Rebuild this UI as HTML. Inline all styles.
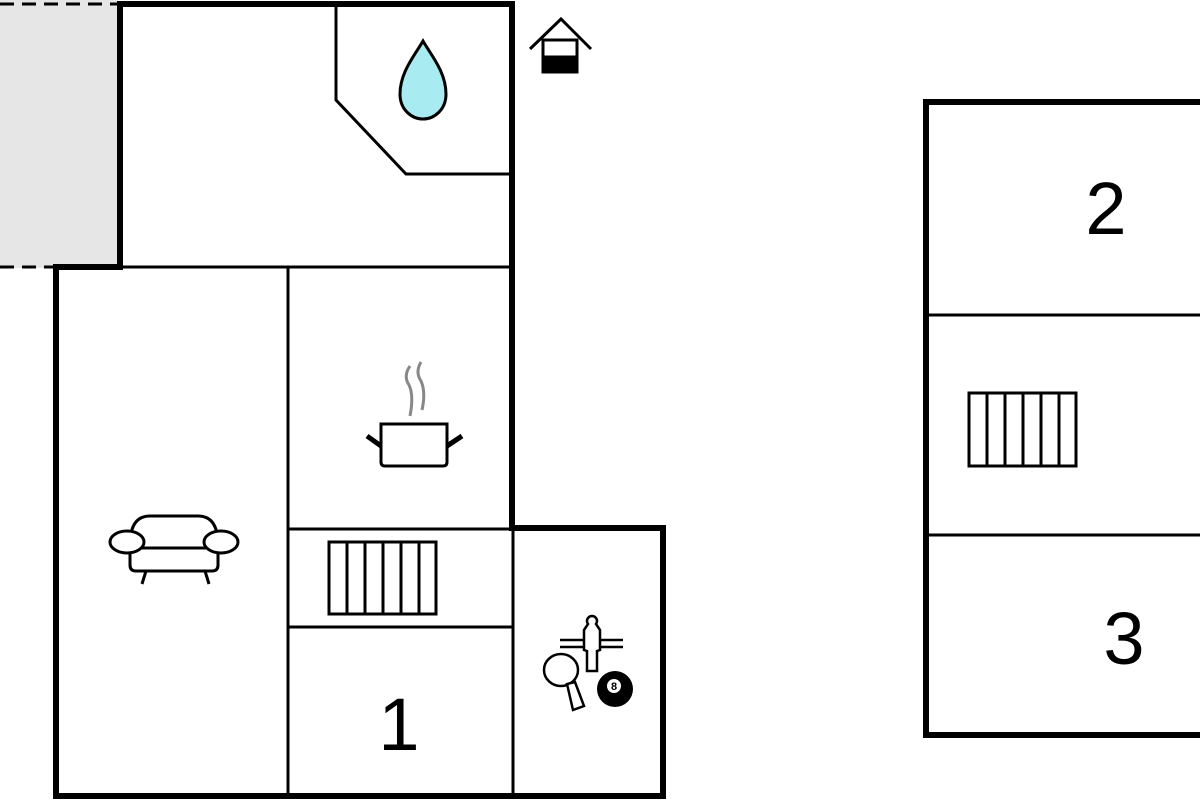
<!DOCTYPE html>
<html><head><style>body{margin:0;background:#fff}svg{display:block}</style></head>
<body>
<svg width="1200" height="800" viewBox="0 0 1200 800" xmlns="http://www.w3.org/2000/svg">
<rect x="0" y="0" width="118" height="268" fill="#e6e6e6"/>
<line x1="0" y1="4" x2="118" y2="4" stroke="#000" stroke-width="3" stroke-dasharray="14,8"/>
<line x1="0" y1="267" x2="118" y2="267" stroke="#000" stroke-width="3" stroke-dasharray="14,8"/>
<g stroke="#000" fill="none" stroke-linecap="square">
<!-- thick outer walls -->
<path d="M120 267 V4 H512 V528 H663 V796 H56 V267 H120" stroke-width="6"/>
<!-- thin inner -->
<g stroke-width="3">
<line x1="120" y1="267" x2="512" y2="267"/>
<line x1="288" y1="267" x2="288" y2="796"/>
<line x1="288" y1="529" x2="512" y2="529"/>
<line x1="288" y1="627" x2="512" y2="627"/>
<line x1="513" y1="528" x2="513" y2="796"/>
<path d="M336 4 V100 L406 174 H512"/>
<!-- stairs 1 -->
<rect x="329" y="542" width="107" height="72"/>
<line x1="347" y1="542" x2="347" y2="614"/><line x1="365" y1="542" x2="365" y2="614"/>
<line x1="383" y1="542" x2="383" y2="614"/><line x1="401" y1="542" x2="401" y2="614"/>
<line x1="419" y1="542" x2="419" y2="614"/>
<!-- right building -->
<line x1="929" y1="315" x2="1200" y2="315"/>
<line x1="929" y1="535" x2="1200" y2="535"/>
<rect x="969" y="393" width="107" height="73"/>
<line x1="987" y1="393" x2="987" y2="466"/><line x1="1005" y1="393" x2="1005" y2="466"/>
<line x1="1023" y1="393" x2="1023" y2="466"/><line x1="1041" y1="393" x2="1041" y2="466"/>
<line x1="1059" y1="393" x2="1059" y2="466"/>
</g>
<path d="M1200 102 H926 V735 H1200" stroke-width="6"/>
</g>
<!-- drop -->
<path d="M423 41 C415 55 400 72 400 94 C400 110 412 119 423 119 C434 119 446 110 446 94 C446 72 431 55 423 41 Z" fill="#a8ecf2" stroke="#000" stroke-width="3"/>
<!-- house icon -->
<g stroke="#000" stroke-width="3" fill="none">
<path d="M530 49 L561 19 L591 49"/>
<rect x="543" y="40" width="34" height="32" fill="#fff"/>
<rect x="543" y="57" width="34" height="15" fill="#000"/>
</g>
<!-- pot -->
<g stroke="#000" stroke-width="3" fill="none">
<path d="M381 424 H447 V462 Q447 466 443 466 H385 Q381 466 381 462 Z"/>
<line x1="367" y1="436" x2="381" y2="446" stroke-width="5"/>
<line x1="462" y1="436" x2="447" y2="446" stroke-width="5"/>
<path d="M410 366 Q403 376 409 385 Q414 395 410 416" stroke="#888"/>
<path d="M421 362 Q415 372 421 381 Q426 392 422 410" stroke="#888"/>
</g>
<!-- sofa -->
<g stroke="#000" stroke-width="3" fill="#fff">
<path d="M130 545 Q130 516 150 516 H198 Q218 516 218 545 V565 Q218 571 212 571 H136 Q130 571 130 565 Z"/>
<line x1="130" y1="548" x2="218" y2="548"/>
<ellipse cx="127" cy="542" rx="17" ry="11"/>
<ellipse cx="221" cy="542" rx="17" ry="11"/>
<line x1="146" y1="571" x2="142" y2="584"/>
<line x1="205" y1="571" x2="209" y2="584"/>
</g>
<!-- games -->
<g stroke="#000" stroke-width="2.5" fill="#fff">
<line x1="560" y1="640" x2="623" y2="640"/><line x1="560" y1="647" x2="623" y2="647"/>
<path d="M588 624 a5 5 0 1 1 8 0 l4 6 v20 l-3 1 v20 h-10 v-20 l-3 -1 v-20 z"/>
<ellipse cx="561" cy="670" rx="17" ry="16"/>
<path d="M567 684 L573 710 L584 706 L575 682 Z"/>
</g>
<circle cx="615" cy="689" r="18" fill="#000"/>
<circle cx="614" cy="686" r="7" fill="#fff"/>
<text x="614" y="690" font-family="Liberation Sans, sans-serif" font-size="11" font-weight="bold" text-anchor="middle">8</text>
<g font-family="Liberation Sans, sans-serif" font-size="74" fill="#000" text-anchor="middle">
<text x="399" y="750">1</text>
<text x="1106" y="234">2</text>
<text x="1124" y="664">3</text>
</g>
</svg>
</body></html>
